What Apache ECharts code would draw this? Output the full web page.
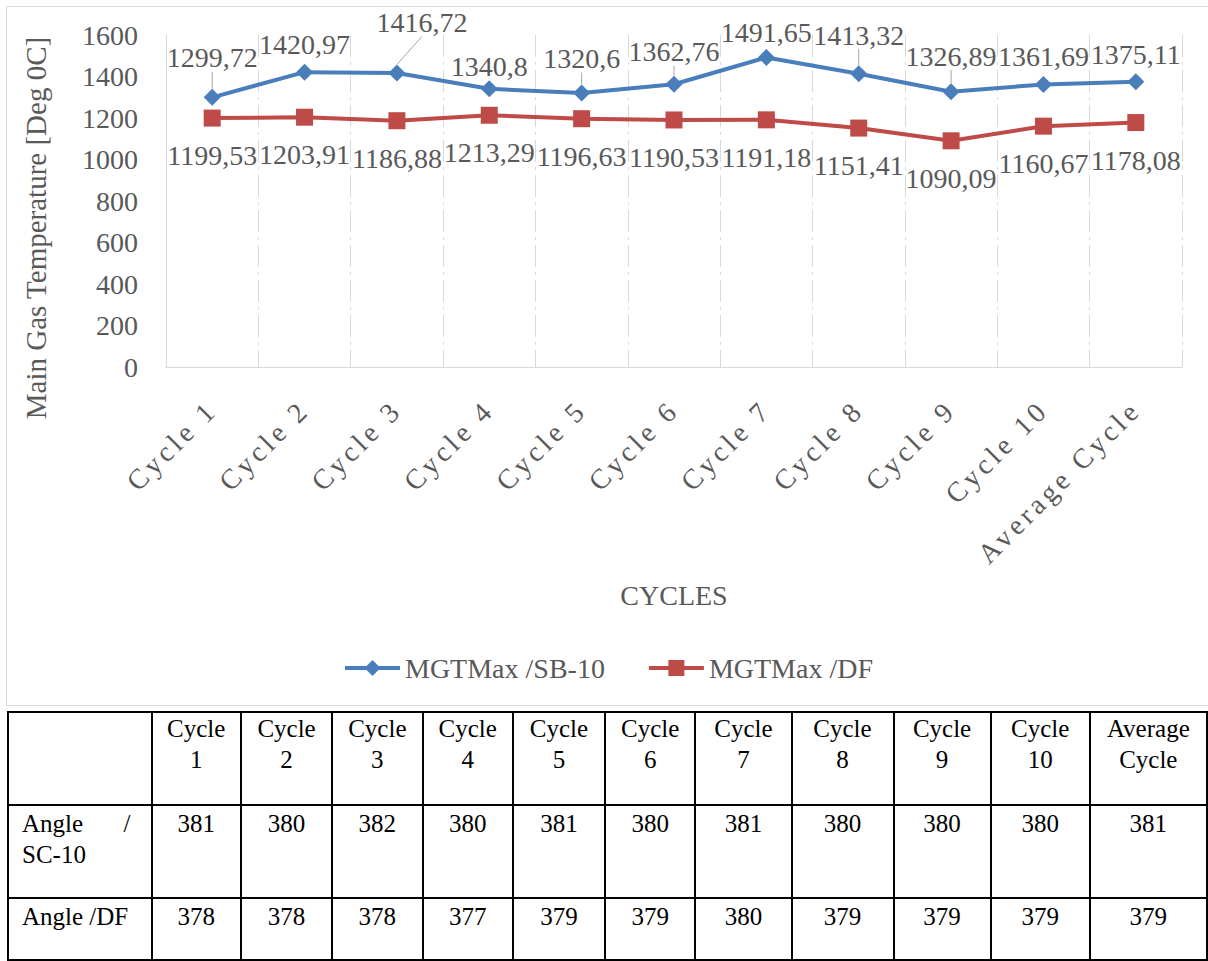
<!DOCTYPE html>
<html>
<head>
<meta charset="utf-8">
<script src="https://cdn.jsdelivr.net/npm/echarts@6/dist/echarts.min.js"></script>
<style>
  html, body { margin:0; padding:0; background:#fff; width:1208px; height:961px; overflow:hidden; }
  #chart { position:absolute; left:0; top:0; width:1208px; height:710px; }
  #chart text.spaced { letter-spacing:4px; }
  #tbl { position:absolute; left:7px; top:711px; border-collapse:collapse; table-layout:fixed;
         font-family:"Liberation Serif","Times New Roman",serif; font-size:25px; color:#000; }
  #tbl td { border:2px solid #000; vertical-align:top; text-align:center; padding:0 4px; line-height:31px; }
  #tbl td.rl { text-align:justify; padding:0 20px 0 13px; }
  #tbl tr.r1 td, #tbl tr.r2 td { padding-top:2px; }
  #tbl tr.h td { height:91px; }
  #tbl tr.r1 td { height:89px; }
  #tbl tr.r2 td { height:58px; }
</style>
</head>
<body>
<div id="chart"></div>
<table id="tbl"></table>
<script>
// ---------- data ----------
const categories = ['Cycle 1','Cycle 2','Cycle 3','Cycle 4','Cycle 5','Cycle 6','Cycle 7','Cycle 8','Cycle 9','Cycle 10','Average Cycle'];
const mgtSB10 = [1299.72, 1420.97, 1416.72, 1340.8, 1320.6, 1362.76, 1491.65, 1413.32, 1326.89, 1361.69, 1375.11];
const mgtDF   = [1199.53, 1203.91, 1186.88, 1213.29, 1196.63, 1190.53, 1191.18, 1151.41, 1090.09, 1160.67, 1178.08];
const seriesNames = ['MGTMax /SB-10', 'MGTMax /DF'];
const rowLabels = ['Angle / SC-10', 'Angle /DF'];
const angleSC10 = [381, 380, 382, 380, 381, 380, 381, 380, 380, 380, 381];
const angleDF   = [378, 378, 378, 377, 379, 379, 380, 379, 379, 379, 379];
const yMin = 0, yMax = 1600, yStep = 200;

// ---------- style ----------
const FONT = '"Liberation Serif","Times New Roman",serif';
const GRAY = '#595959';
const BLUE = '#4A7EBB';
const RED = '#BE4B48';
const colWidths = [145, 90, 92, 91, 91, 93, 91, 97, 103, 98, 100, 118];
// label nudges (Excel manually moved labels)
const blueNudge = {0:[0,-12], 2:[25,-23], 3:[0,5], 4:[0,-7], 5:[0,-5], 6:[0,3], 7:[0,-11], 8:[0,-8]};
const blueLeader = [0, 2, 4, 5, 7, 8];
const fmt = p => String(p.value).replace('.', ',');

const chart = echarts.init(document.getElementById('chart'), null, {renderer:'svg'});
chart.setOption({
  animation: false,
  graphic: [{
    type:'rect', silent:true, z:-10,
    shape:{x:6.5, y:6.5, width:1215, height:699},
    style:{fill:'none', stroke:'#d9d9d9', lineWidth:1}
  }],
  grid: {left:166, right:26, top:35, bottom:343},
  xAxis: {
    type:'category', data:categories, boundaryGap:true,
    axisLine:{show:true, lineStyle:{color:'#d9d9d9', width:1}},
    axisTick:{show:false},
    splitLine:{show:true, lineStyle:{color:'#d9d9d9', width:1, type:[22,5,3,5]}},
    axisLabel:{interval:0, rotate:45, margin:38, fontFamily:FONT, fontSize:28, color:GRAY},
    name:'CYCLES', nameLocation:'middle', nameGap:214,
    nameTextStyle:{fontFamily:FONT, fontSize:28, color:GRAY}
  },
  yAxis: {
    type:'value', min:yMin, max:yMax, interval:yStep,
    axisLine:{show:true, lineStyle:{color:'#d9d9d9', width:1}},
    axisTick:{show:false},
    splitLine:{show:false},
    axisLabel:{margin:28, fontFamily:FONT, fontSize:28, color:GRAY, formatter: v => String(v)},
    name:'Main Gas Temperature [Deg 0C]', nameLocation:'middle', nameGap:116, nameRotate:90,
    nameTextStyle:{fontFamily:FONT, fontSize:29, color:GRAY, padding:[0,54,0,0]}
  },
  legend: {
    left:338, top:649, itemWidth:55, itemHeight:20, itemGap:42,
    lineStyle:{width:4},
    textStyle:{fontFamily:FONT, fontSize:28, color:GRAY},
    data: seriesNames
  },
  series: [
    {
      name: seriesNames[0], type:'line',
      data: mgtSB10.map((v, i) => ({value:v, labelLine:{show: blueLeader.includes(i)}})),
      symbol:'diamond', symbolSize:17,
      lineStyle:{width:4, color:BLUE}, itemStyle:{color:BLUE},
      label:{show:true, position:'top', distance:5, fontFamily:FONT, fontSize:28, color:GRAY, formatter:fmt},
      labelLine:{show:false, lineStyle:{color:'#a6a6a6', width:1}},
      labelLayout: p => { const n = blueNudge[p.dataIndex]; return n ? {dx:n[0], dy:n[1]} : {}; }
    },
    {
      name: seriesNames[1], type:'line',
      data: mgtDF,
      symbol:'rect', symbolSize:17,
      lineStyle:{width:4, color:RED}, itemStyle:{color:RED},
      label:{show:true, position:'bottom', distance:15, fontFamily:FONT, fontSize:28, color:GRAY, formatter:fmt}
    }
  ]
});

// Excel renders the category labels with wide character spacing
function spaceCategoryLabels() {
  document.querySelectorAll('#chart text').forEach(t => {
    const tr = t.getAttribute('transform') || '';
    if (categories.includes(t.textContent) && /matrix/.test(tr)) t.classList.add('spaced');
  });
}
spaceCategoryLabels();
chart.on('finished', spaceCategoryLabels);

// ---------- table ----------
const tbl = document.getElementById('tbl');
const cg = document.createElement('colgroup');
colWidths.forEach(w => { const c = document.createElement('col'); c.style.width = w + 'px'; cg.appendChild(c); });
tbl.appendChild(cg);
const split2 = s => { const k = s.lastIndexOf(' '); return s.slice(0, k) + '<br>' + s.slice(k + 1); };
let html = '<tr class="h"><td class="rl"></td>' + categories.map(c => '<td>' + split2(c) + '</td>').join('') + '</tr>';
html += '<tr class="r1"><td class="rl">' + rowLabels[0] + '</td>' + angleSC10.map(v => '<td>' + v + '</td>').join('') + '</tr>';
html += '<tr class="r2"><td class="rl">' + rowLabels[1] + '</td>' + angleDF.map(v => '<td>' + v + '</td>').join('') + '</tr>';
tbl.insertAdjacentHTML('beforeend', html);
</script>
</body>
</html>
